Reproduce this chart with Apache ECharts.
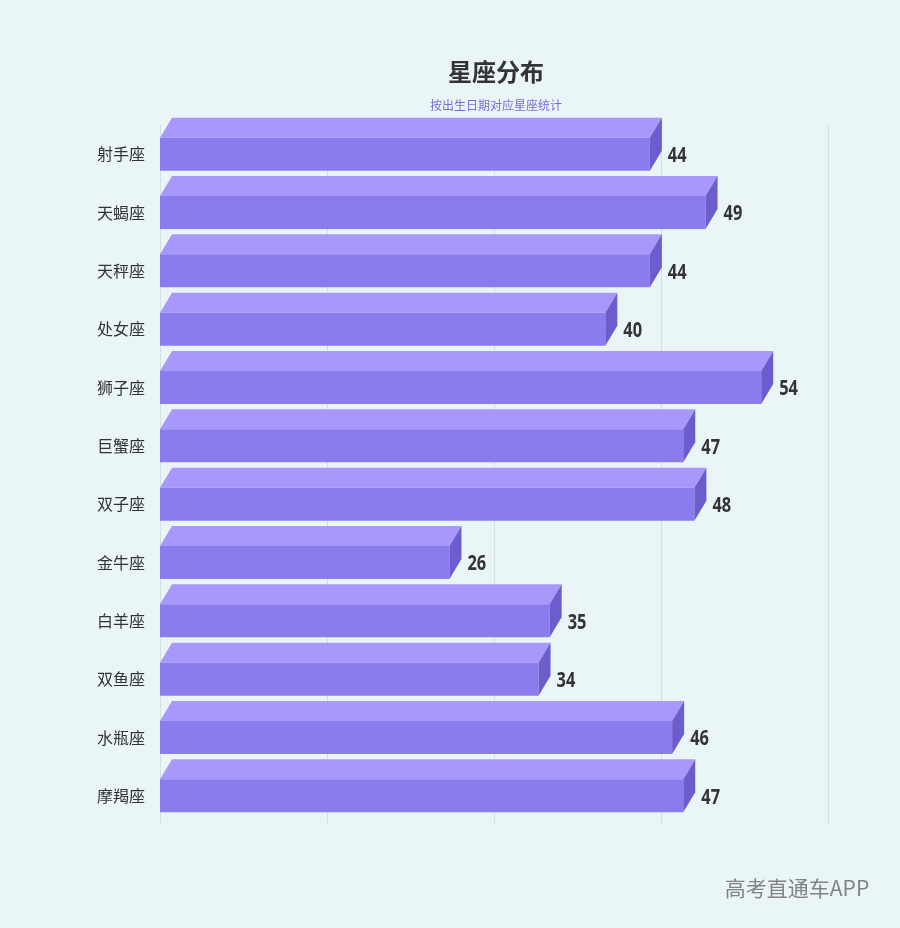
<!DOCTYPE html>
<html><head><meta charset="utf-8">
<script src="https://cdn.jsdelivr.net/npm/echarts@6/dist/echarts.min.js"></script>
<style>html,body{margin:0;padding:0;background:#eaf5f8;}#c{width:900px;height:928px;}</style>
</head><body><div id="c"></div>
<script>
var categories = ['射手座','天蝎座','天秤座','处女座','狮子座','巨蟹座','双子座','金牛座','白羊座','双鱼座','水瓶座','摩羯座'];
var values = [44,49,44,40,54,47,48,26,35,34,46,47];
var xTicks = [0,15,30,45,60];

var chart = echarts.init(document.getElementById('c'));
var data = values.map(function(v,i){return [v,i];});
chart.setOption({
  backgroundColor:'#eaf5f8',
  animation:false,
  graphic:[
    {type:'text',x:496,y:72,style:{text:'星座分布',fontSize:24,fontWeight:'bold',fill:'#333',textAlign:'center',textVerticalAlign:'middle',fontFamily:'Noto Sans CJK SC'}},
    {type:'text',x:496,y:105,style:{text:'按出生日期对应星座统计',fontSize:12,fill:'#7b6dd6',textAlign:'center',textVerticalAlign:'middle',fontFamily:'Noto Sans CJK SC'}},
    {type:'text',x:797,y:888,style:{text:'高考直通车APP',fontSize:21,fill:'#838383',textAlign:'center',textVerticalAlign:'middle',fontFamily:'Noto Sans CJK SC'}}
  ],
  grid:{left:160,right:72,top:125,bottom:103},
  xAxis:{type:'value',min:xTicks[0],max:xTicks[xTicks.length-1],interval:15,
    axisLabel:{show:false},axisLine:{show:false},axisTick:{show:false},
    splitLine:{show:true,lineStyle:{color:'#d3e0e4',width:1}}},
  yAxis:{type:'category',data:categories,inverse:true,
    axisLine:{show:false},axisTick:{show:false},
    axisLabel:{margin:15,fontSize:16,color:'#333',fontFamily:'Noto Sans CJK SC'}},
  series:[{
    type:'custom',
    data:data,
    encode:{x:0,y:1},
    renderItem:function(params,api){
      var v=api.value(0), c=api.value(1);
      var p0=api.coord([0,c]), p1=api.coord([v,c]);
      var h=33, dx=12, dy=20;
      var x0=p0[0], x1=p1[0], yt=p0[1]-h/2, yb=p0[1]+h/2;
      return {type:'group',children:[
        {type:'polygon',shape:{points:[[x0,yt],[x0+dx,yt-dy],[x1+dx,yt-dy],[x1,yt]]},style:{fill:'#a898fc'}},
        {type:'polygon',shape:{points:[[x0,yt],[x1,yt],[x1,yb],[x0,yb]]},style:{fill:'#8b7ced'}},
        {type:'polygon',shape:{points:[[x1,yt],[x1+dx,yt-dy],[x1+dx,yb-dy],[x1,yb]]},style:{fill:'#6d5dcc'}},
        {type:'text',x:x1+dx+6,y:p0[1]+2,scaleX:0.78,style:{text:String(v),fontSize:21,fontWeight:'bold',fill:'#333',textAlign:'left',textVerticalAlign:'middle',fontFamily:'Noto Sans'}}
      ]};
    }
  }]
});
</script></body></html>
